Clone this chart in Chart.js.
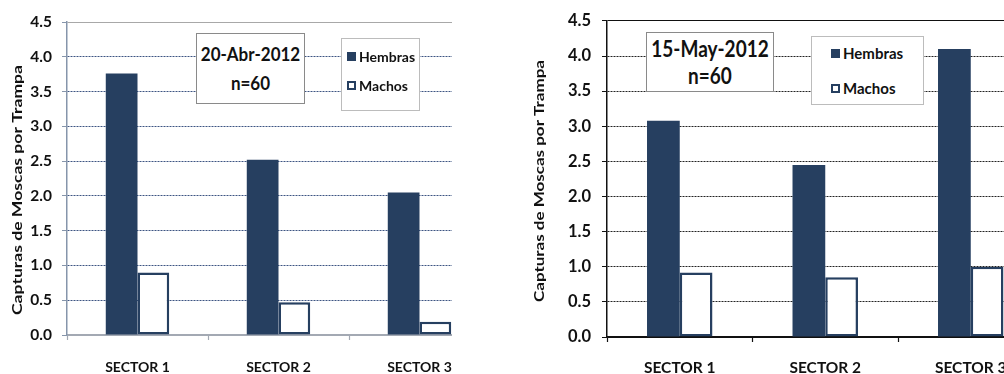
<!DOCTYPE html>
<html>
<head>
<meta charset="utf-8">
<script src="https://cdn.jsdelivr.net/npm/chart.js@4.4.1/dist/chart.umd.min.js"></script>
<style>
  body { margin: 0; background: #fff; font-family: Lato, sans-serif; }
  .panel { position: absolute; top: 0; height: 374px; overflow: hidden; }
  .panel canvas { position: absolute; left: 0; top: 0; }
  .note { position: absolute; box-sizing: border-box; background: #fff; border: 1.5px solid #8a8a8a;
          text-align: center; font-weight: bold; color: #111; }
  .note div { transform: scaleY(1.15); }
  .legend { position: absolute; box-sizing: border-box; background: #fff; border: 1.5px solid #bcbcbc;
            font-weight: bold; color: #111; }
  .legend .item { position: absolute; white-space: nowrap; display: flex; align-items: center; }
  .legend .swatch { display: inline-block; box-sizing: border-box; width: 9px; height: 9px; margin-right: 3px; }
</style>
</head>
<body>
<div class="panel" id="panelAbr" style="left:0; width:452px;">
  <canvas id="chartAbr" width="495" height="374"></canvas>
</div>
<div class="panel" id="panelMay" style="left:520px; width:484px;">
  <canvas id="chartMay" width="528" height="374"></canvas>
</div>

<script>
// data
const sectores = ['SECTOR 1', 'SECTOR 2', 'SECTOR 3'];
const abrHembras = [3.76, 2.52, 2.05];
const abrMachos = [0.90, 0.47, 0.19];
const mayHembras = [3.08, 2.45, 4.10];
const mayMachos = [0.92, 0.85, 1.00];
const series = ['Hembras', 'Machos'];
const tituloY = 'Capturas de Moscas por Trampa';
const notaAbr = ['20-Abr-2012', 'n=60'];
const notaMay = ['15-May-2012', 'n=60'];

const navy = '#263f60';

// y axis title, drawn rotated and stretched to the length it has in the picture
const yTitlePlugin = {
  id: 'yTitle',
  afterDraw(chart, args, opts) {
    const ctx = chart.ctx;
    ctx.save();
    ctx.font = 'bold ' + opts.size + 'px Lato';
    ctx.fillStyle = '#111';
    ctx.textAlign = 'center';
    ctx.textBaseline = 'middle';
    const w = ctx.measureText(opts.text).width;
    ctx.translate(opts.x, opts.y);
    ctx.rotate(-Math.PI / 2);
    ctx.scale(opts.length / w, 1);
    ctx.fillText(opts.text, 0, 0);
    ctx.restore();
  }
};

function makeChart(id, hembras, machos, o) {
  const ctx = document.getElementById(id).getContext('2d');
  return new Chart(ctx, {
    type: 'bar',
    data: {
      labels: sectores,
      datasets: [
        { label: series[0], data: hembras, backgroundColor: navy, borderWidth: 0,
          categoryPercentage: 0.45, barPercentage: 1 },
        { label: series[1], data: machos, backgroundColor: '#fff', borderColor: navy, borderWidth: 2.5,
          borderSkipped: false, categoryPercentage: 0.45, barPercentage: 1 }
      ]
    },
    plugins: [yTitlePlugin],
    options: {
      responsive: false,
      animation: false,
      layout: { padding: { top: o.padTop, right: o.padRight, left: 0, bottom: 0 } },
      plugins: {
        legend: { display: false },
        tooltip: { enabled: false },
        yTitle: { text: tituloY, size: 14, x: o.titleX, y: o.titleY, length: o.titleLen }
      },
      scales: {
        x: {
          offset: true,
          grid: { offset: true, drawOnChartArea: false, tickLength: 5, color: o.xAxisColor, tickWidth: 1.2 },
          border: { color: o.xAxisColor, width: 1.5 },
          ticks: { padding: o.xPad, maxRotation: 0, color: '#111',
                   font: { family: 'Lato', weight: 'bold', size: o.xFont } },
          afterFit: s => { s.height = o.xHeight; }
        },
        y: {
          min: 0, max: 4.5,
          ticks: { stepSize: 0.5, padding: o.yPad, color: '#111',
                   font: { family: 'Lato', weight: 'bold', size: o.yFont },
                   callback: v => v.toFixed(1) },
          grid: {
            color: c => c.tick.value === 4.5 ? o.topColor : (c.tick.value === 0 ? o.xAxisColor : o.gridColor),
            tickColor: o.yAxisColor, tickLength: 5, lineWidth: 1
          },
          border: { color: o.yAxisColor, width: 1.5,
                    dash: c => (c.tick.value === 4.5 || c.tick.value === 0) ? [] : [2, 1] },
          afterFit: s => { s.width = o.yWidth; }
        }
      }
    }
  });
}

function addNote(lines, b) {
  const d = document.createElement('div');
  d.className = 'note';
  Object.assign(d.style, { left: b.left + 'px', top: b.top + 'px', width: b.width + 'px', height: b.height + 'px',
    fontSize: b.font + 'px', lineHeight: b.line + 'px', paddingTop: b.padTop + 'px' });
  d.innerHTML = lines.map(t => '<div>' + t + '</div>').join('');
  document.body.appendChild(d);
}

function addLegend(chart, b) {
  const d = document.createElement('div');
  d.className = 'legend';
  Object.assign(d.style, { left: b.left + 'px', top: b.top + 'px', width: b.width + 'px', height: b.height + 'px',
    fontSize: b.font + 'px' });
  chart.data.datasets.forEach((ds, i) => {
    const it = document.createElement('div');
    it.className = 'item';
    it.style.left = b.padLeft + 'px';
    it.style.top = (b.rows[i] - b.top - 10) + 'px';
    it.style.height = '20px';
    const sw = document.createElement('span');
    sw.className = 'swatch';
    sw.style.background = ds.backgroundColor;
    if (ds.borderWidth) sw.style.border = '2px solid ' + ds.borderColor;
    it.appendChild(sw);
    it.appendChild(document.createTextNode(ds.label));
    d.appendChild(it);
  });
  document.body.appendChild(d);
}

const chartAbr = makeChart('chartAbr', abrHembras, abrMachos, {
  padTop: 22, padRight: 5, yWidth: 67, xHeight: 39, xPad: 19, yPad: 10,
  titleX: 17, titleY: 190, titleLen: 250,
  xFont: 14, yFont: 15.5,
  xAxisColor: '#a3a9b3', yAxisColor: '#8695ab', topColor: '#a8a8a8', gridColor: '#3d5482'
});
const chartMay = makeChart('chartMay', mayHembras, mayMachos, {
  padTop: 20, padRight: 4.5, yWidth: 87, xHeight: 37, xPad: 17, yPad: 11,
  titleX: 19, titleY: 181, titleLen: 242,
  xFont: 15.5, yFont: 16.5,
  xAxisColor: '#111', yAxisColor: '#111', topColor: '#111', gridColor: '#222'
});

addNote(notaAbr, { left: 196, top: 33, width: 109, height: 71, font: 17, line: 29, padTop: 5 });
addNote(notaMay, { left: 646, top: 32, width: 128, height: 60, font: 19, line: 27, padTop: 2 });
addLegend(chartAbr, { left: 341, top: 38, width: 79, height: 73, font: 14, padLeft: 5, rows: [55, 84] });
addLegend(chartMay, { left: 811, top: 36, width: 113, height: 69, font: 15, padLeft: 19, rows: [52, 87] });
</script>
</body>
</html>
